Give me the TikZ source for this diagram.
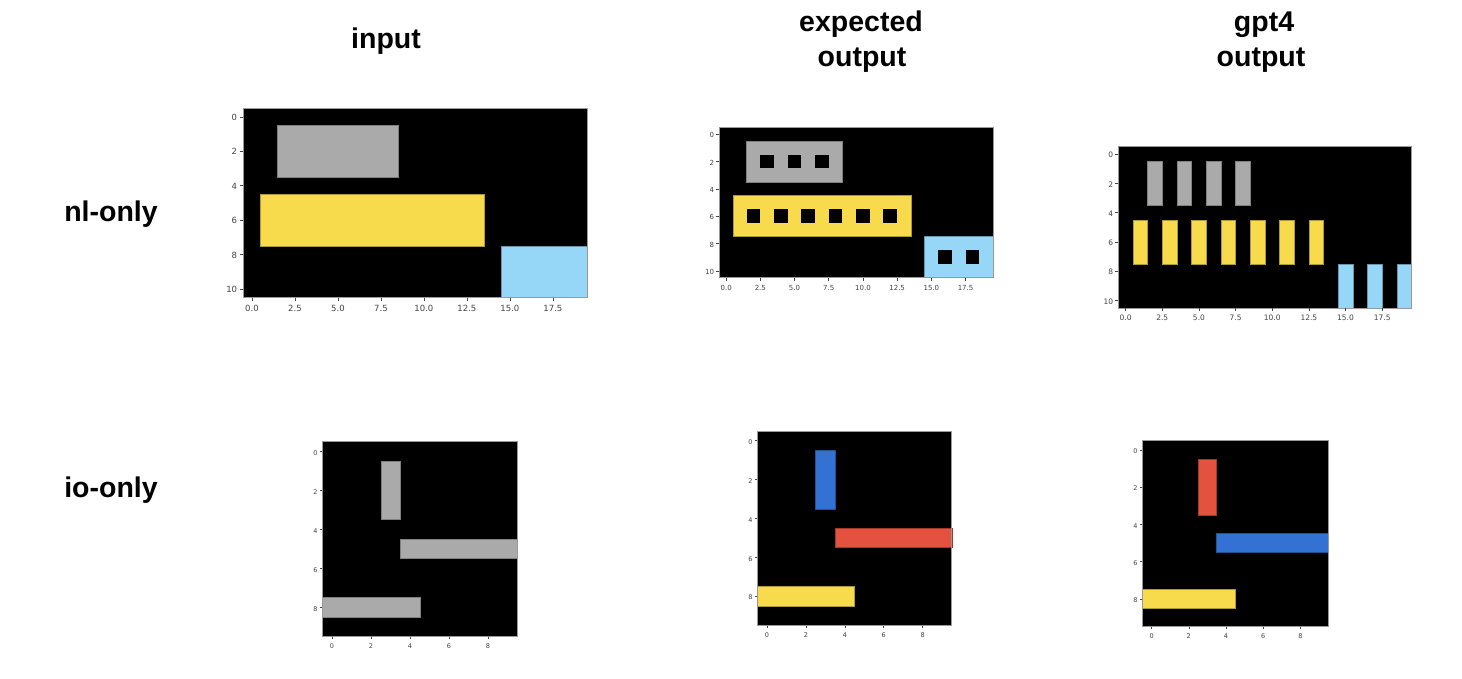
\documentclass[tikz,border=0pt]{standalone}
\usepackage{fontspec}
\setmainfont{Liberation Sans}
\newfontfamily\tickfont{DejaVu Sans}
\definecolor{arcgray}{HTML}{AAAAAA}
\definecolor{arcyellow}{HTML}{F7DB4C}
\definecolor{arcsky}{HTML}{96D7F8}
\definecolor{arcblue}{HTML}{3372D3}
\definecolor{arcred}{HTML}{E5513F}
\definecolor{tickgray}{HTML}{444444}
\begin{document}
\begin{tikzpicture}[x=1pt,y=-1pt,
  title/.style={font=\fontsize{28.5}{35}\selectfont\bfseries, align=center, inner sep=0pt},
  rowlabel/.style={font=\fontsize{28.5}{35}\selectfont\bfseries, inner sep=0pt, anchor=base},
  bg/.style={fill=black},
  frame/.style={draw=black!40, line width=0.7pt},
  cellg/.style={fill=arcgray, draw=arcgray!75!black, line width=0.6pt},
  celly/.style={fill=arcyellow, draw=arcyellow!70!black, line width=0.6pt},
  cellc/.style={fill=arcsky, draw=arcsky!70!black, line width=0.6pt},
  cellb/.style={fill=arcblue, draw=arcblue!70!black, line width=0.6pt},
  cellr/.style={fill=arcred, draw=arcred!70!black, line width=0.6pt},
  hole/.style={fill=black},
  tk/.style={draw=tickgray, line width=0.5pt},
  tl/.style={text=tickgray, inner sep=0pt, text height=0.73em, text depth=0pt}
]
\useasboundingbox[fill=white] (0,0) rectangle (1462,678);

% titles
\node[title, anchor=base] (tin) at (386,48.3) {input};
\node[title, anchor=base] (texp1) at (861,31) {expected};
\node[title, anchor=base] (texp2) at (862,66) {output};
\node[title, anchor=base] (tgpt1) at (1264,31) {gpt4};
\node[title, anchor=base] (tgpt2) at (1261,66) {output};
\node[rowlabel] (rnl) at (111,221) {nl-only};
\node[rowlabel] (rio) at (111,497) {io-only};

% ---------- plot 1: nl-only input
\begin{scope}[shift={(243.3,108.3)}, x=17.2pt, y=-17.2pt]
  \fill[bg] (0,0) rectangle (20,11);
  \filldraw[cellg] (2,1) rectangle (9,4);
  \filldraw[celly] (1,5) rectangle (14,8);
  \filldraw[cellc] (15,8) rectangle (20,11);
  \draw[frame] (0,0) rectangle (20,11);
  \foreach \v/\l [count=\k] in {0/0.0,2.5/2.5,5/5.0,7.5/7.5,10/10.0,12.5/12.5,15/15.0,17.5/17.5}{
    \draw[tk] (\v+0.5,11) -- ++(0,-3.5pt);
    \node[tl, anchor=north, font=\tickfont\fontsize{8.5}{9}\selectfont] (pa\k) at ([yshift=-6pt]\v+0.5,11) {\l};}
  \foreach \v [count=\k] in {0,2,4,6,8,10}{
    \draw[tk] (0,\v+0.5) -- ++(-3.5pt,0);
    \node[tl, anchor=east, font=\tickfont\fontsize{8.5}{9}\selectfont] (pay\k) at ([xshift=-6pt]0,\v+0.5) {\v};}
\end{scope}

% ---------- plot 2: nl-only expected
\begin{scope}[shift={(719.3,127.3)}, x=13.68pt, y=-13.68pt]
  \fill[bg] (0,0) rectangle (20,11);
  \filldraw[cellg] (2,1) rectangle (9,4);
  \filldraw[celly] (1,5) rectangle (14,8);
  \filldraw[cellc] (15,8) rectangle (20,11);
  \foreach \c in {3,5,7}{\fill[hole] (\c,2) rectangle (\c+1,3);}
  \foreach \c in {2,4,6,8,10,12}{\fill[hole] (\c,6) rectangle (\c+1,7);}
  \foreach \c in {16,18}{\fill[hole] (\c,9) rectangle (\c+1,10);}
  \draw[frame] (0,0) rectangle (20,11);
  \foreach \v/\l [count=\k] in {0/0.0,2.5/2.5,5/5.0,7.5/7.5,10/10.0,12.5/12.5,15/15.0,17.5/17.5}{
    \draw[tk] (\v+0.5,11) -- ++(0,-3pt);
    \node[tl, anchor=north, font=\tickfont\fontsize{7}{8}\selectfont] (pb\k) at ([yshift=-5pt]\v+0.5,11) {\l};}
  \foreach \v [count=\k] in {0,2,4,6,8,10}{
    \draw[tk] (0,\v+0.5) -- ++(-3pt,0);
    \node[tl, anchor=east, font=\tickfont\fontsize{7}{8}\selectfont] (pby\k) at ([xshift=-5pt]0,\v+0.5) {\v};}
\end{scope}

% ---------- plot 3: nl-only gpt4
\begin{scope}[shift={(1118.3,146.7)}, x=14.66pt, y=-14.66pt]
  \fill[bg] (0,0) rectangle (20,11);
  \foreach \c in {2,4,6,8}{\filldraw[cellg] (\c,1) rectangle (\c+1,4);}
  \foreach \c in {1,3,5,7,9,11,13}{\filldraw[celly] (\c,5) rectangle (\c+1,8);}
  \foreach \c in {15,17,19}{\filldraw[cellc] (\c,8) rectangle (\c+1,11);}
  \draw[frame] (0,0) rectangle (20,11);
  \foreach \v/\l [count=\k] in {0/0.0,2.5/2.5,5/5.0,7.5/7.5,10/10.0,12.5/12.5,15/15.0,17.5/17.5}{
    \draw[tk] (\v+0.5,11) -- ++(0,-3pt);
    \node[tl, anchor=north, font=\tickfont\fontsize{7.5}{8}\selectfont] (pc\k) at ([yshift=-5pt]\v+0.5,11) {\l};}
  \foreach \v [count=\k] in {0,2,4,6,8,10}{
    \draw[tk] (0,\v+0.5) -- ++(-3pt,0);
    \node[tl, anchor=east, font=\tickfont\fontsize{7.5}{8}\selectfont] (pcy\k) at ([xshift=-5pt]0,\v+0.5) {\v};}
\end{scope}

% ---------- plot 4: io-only input
\begin{scope}[shift={(322.3,441.7)}, x=19.5pt, y=-19.5pt]
  \fill[bg] (0,0) rectangle (10,10);
  \filldraw[cellg] (3,1) rectangle (4,4);
  \filldraw[cellg] (4,5) rectangle (10,6);
  \filldraw[cellg] (0,8) rectangle (5,9);
  \draw[frame] (0,0) rectangle (10,10);
  \foreach \v [count=\k] in {0,2,4,6,8}{
    \draw[tk] (\v+0.5,10) -- ++(0,-2.5pt);
    \node[tl, anchor=north, font=\tickfont\fontsize{6.5}{7}\selectfont] (pd\k) at ([yshift=-4.5pt]\v+0.5,10) {\v};
    \draw[tk] (0,\v+0.5) -- ++(-2.5pt,0);
    \node[tl, anchor=east, font=\tickfont\fontsize{6.5}{7}\selectfont] (pdy\k) at ([xshift=-4.5pt]0,\v+0.5) {\v};}
\end{scope}

% ---------- plot 5: io-only expected
\begin{scope}[shift={(757.3,431)}, x=19.45pt, y=-19.45pt]
  \fill[bg] (0,0) rectangle (10,10);
  \filldraw[cellb] (3,1) rectangle (4,4);
  \filldraw[cellr] (4,5) rectangle (10,6);
  \filldraw[celly] (0,8) rectangle (5,9);
  \draw[frame] (0,0) rectangle (10,10);
  \foreach \v [count=\k] in {0,2,4,6,8}{
    \draw[tk] (\v+0.5,10) -- ++(0,-2.5pt);
    \node[tl, anchor=north, font=\tickfont\fontsize{6.5}{7}\selectfont] (pe\k) at ([yshift=-4.5pt]\v+0.5,10) {\v};
    \draw[tk] (0,\v+0.5) -- ++(-2.5pt,0);
    \node[tl, anchor=east, font=\tickfont\fontsize{6.5}{7}\selectfont] (pey\k) at ([xshift=-4.5pt]0,\v+0.5) {\v};}
\end{scope}

% ---------- plot 6: io-only gpt4
\begin{scope}[shift={(1142.3,440.7)}, x=18.6pt, y=-18.6pt]
  \fill[bg] (0,0) rectangle (10,10);
  \filldraw[cellr] (3,1) rectangle (4,4);
  \filldraw[cellb] (4,5) rectangle (10,6);
  \filldraw[celly] (0,8) rectangle (5,9);
  \draw[frame] (0,0) rectangle (10,10);
  \foreach \v [count=\k] in {0,2,4,6,8}{
    \draw[tk] (\v+0.5,10) -- ++(0,-2.5pt);
    \node[tl, anchor=north, font=\tickfont\fontsize{6.5}{7}\selectfont] (pf\k) at ([yshift=-4.5pt]\v+0.5,10) {\v};
    \draw[tk] (0,\v+0.5) -- ++(-2.5pt,0);
    \node[tl, anchor=east, font=\tickfont\fontsize{6.5}{7}\selectfont] (pfy\k) at ([xshift=-4.5pt]0,\v+0.5) {\v};}
\end{scope}
\end{tikzpicture}
\end{document}
